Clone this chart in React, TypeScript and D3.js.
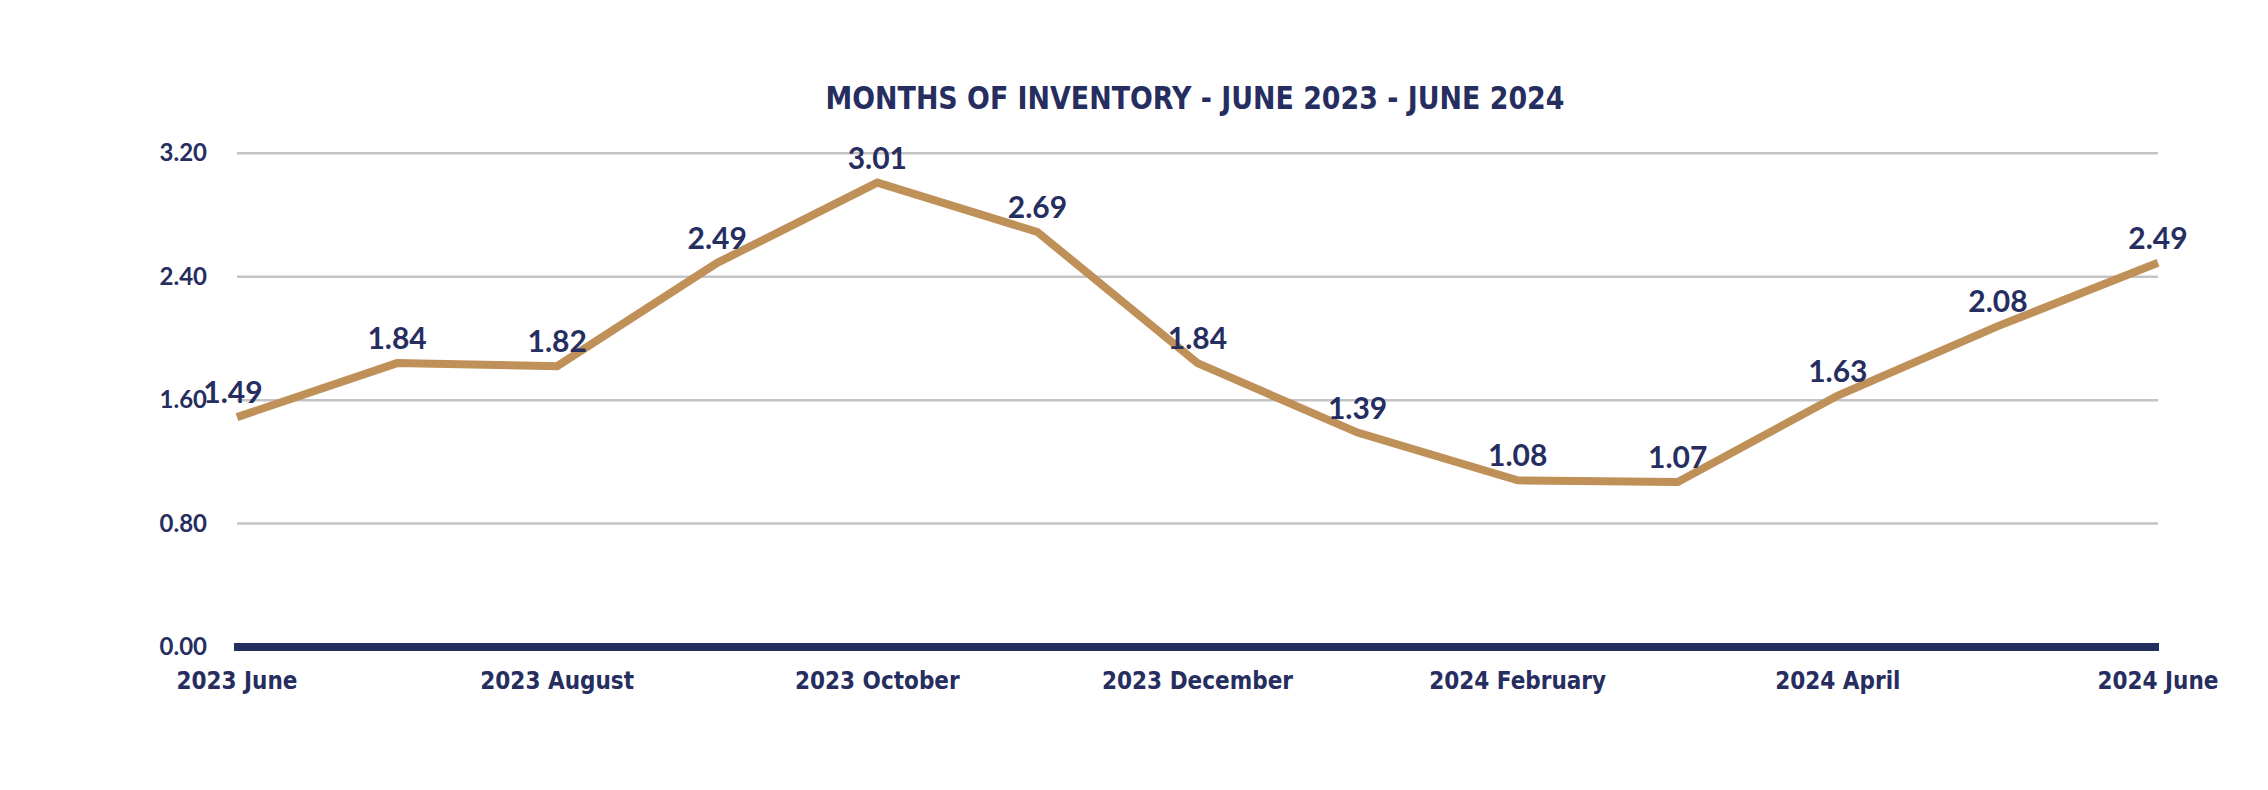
import React from "react";
import * as d3 from "d3";

const months = [
  "2023 June", "2023 July", "2023 August", "2023 September", "2023 October",
  "2023 November", "2023 December", "2024 January", "2024 February",
  "2024 March", "2024 April", "2024 May", "2024 June",
];
const inventory = [1.49, 1.84, 1.82, 2.49, 3.01, 2.69, 1.84, 1.39, 1.08, 1.07, 1.63, 2.08, 2.49];
const yTicks = [0, 0.8, 1.6, 2.4, 3.2];
const xLabelMonths = ["2023 June", "2023 August", "2023 October", "2023 December", "2024 February", "2024 April", "2024 June"];
const title = "MONTHS OF INVENTORY - JUNE 2023 - JUNE 2024";

const W = 2268;
const H = 790;
const NAVY = "#262d5f";
const GOLD = "#bf9058";
const GRID = "#c4c4c4";
const CONDENSED = "'DejaVu Sans Condensed', 'Liberation Sans Narrow', 'DejaVu Sans', sans-serif";
const NUM = "Lato, 'Open Sans', sans-serif";

export default function App() {
  const x = d3.scalePoint<string>().domain(months).range([237, 2158]);
  const y = d3.scaleLinear().domain([0, 3.2]).range([647, 153.3]);
  const line = d3
    .line<number>()
    .x((_, i) => x(months[i]) as number)
    .y((d) => y(d));

  return (
    <svg
      width={W}
      height={H}
      style={{ position: "absolute", left: 0, top: 0, background: "#fff" }}
    >
      <text
        x={1195}
        y={109}
        textAnchor="middle"
        fontFamily={CONDENSED}
        fontWeight={700}
        fontSize={32}
        textLength={739}
        lengthAdjust="spacingAndGlyphs"
        fill={NAVY}
      >
        {title}
      </text>
      {yTicks.map((t) => (
        <g key={t}>
          {t > 0 && (
            <line x1={237} x2={2158} y1={y(t)} y2={y(t)} stroke={GRID} strokeWidth={2.5} />
          )}
          <text
            x={207}
            y={y(t) + 8}
            textAnchor="end"
            fontFamily={NUM}
            fontWeight={700}
            fontSize={24}
            fill={NAVY}
          >
            {t.toFixed(2)}
          </text>
        </g>
      ))}
      <line x1={234} x2={2159} y1={y(0)} y2={y(0)} stroke={NAVY} strokeWidth={8} />
      {xLabelMonths.map((m) => (
        <text
          key={m}
          x={x(m) as number}
          y={689}
          textAnchor="middle"
          fontFamily={CONDENSED}
          fontWeight={700}
          fontSize={24}
          fill={NAVY}
        >
          {m}
        </text>
      ))}
      <path
        d={line(inventory) || ""}
        fill="none"
        stroke={GOLD}
        strokeWidth={8}
        strokeLinejoin="miter"
      />
      {inventory.map((v, i) => (
        <text
          key={i}
          x={(x(months[i]) as number) - (i === 0 ? 4 : 0)}
          y={y(v) - 14}
          textAnchor="middle"
          fontFamily={NUM}
          fontWeight={700}
          fontSize={30}
          fill={NAVY}
        >
          {v.toFixed(2)}
        </text>
      ))}
    </svg>
  );
}
